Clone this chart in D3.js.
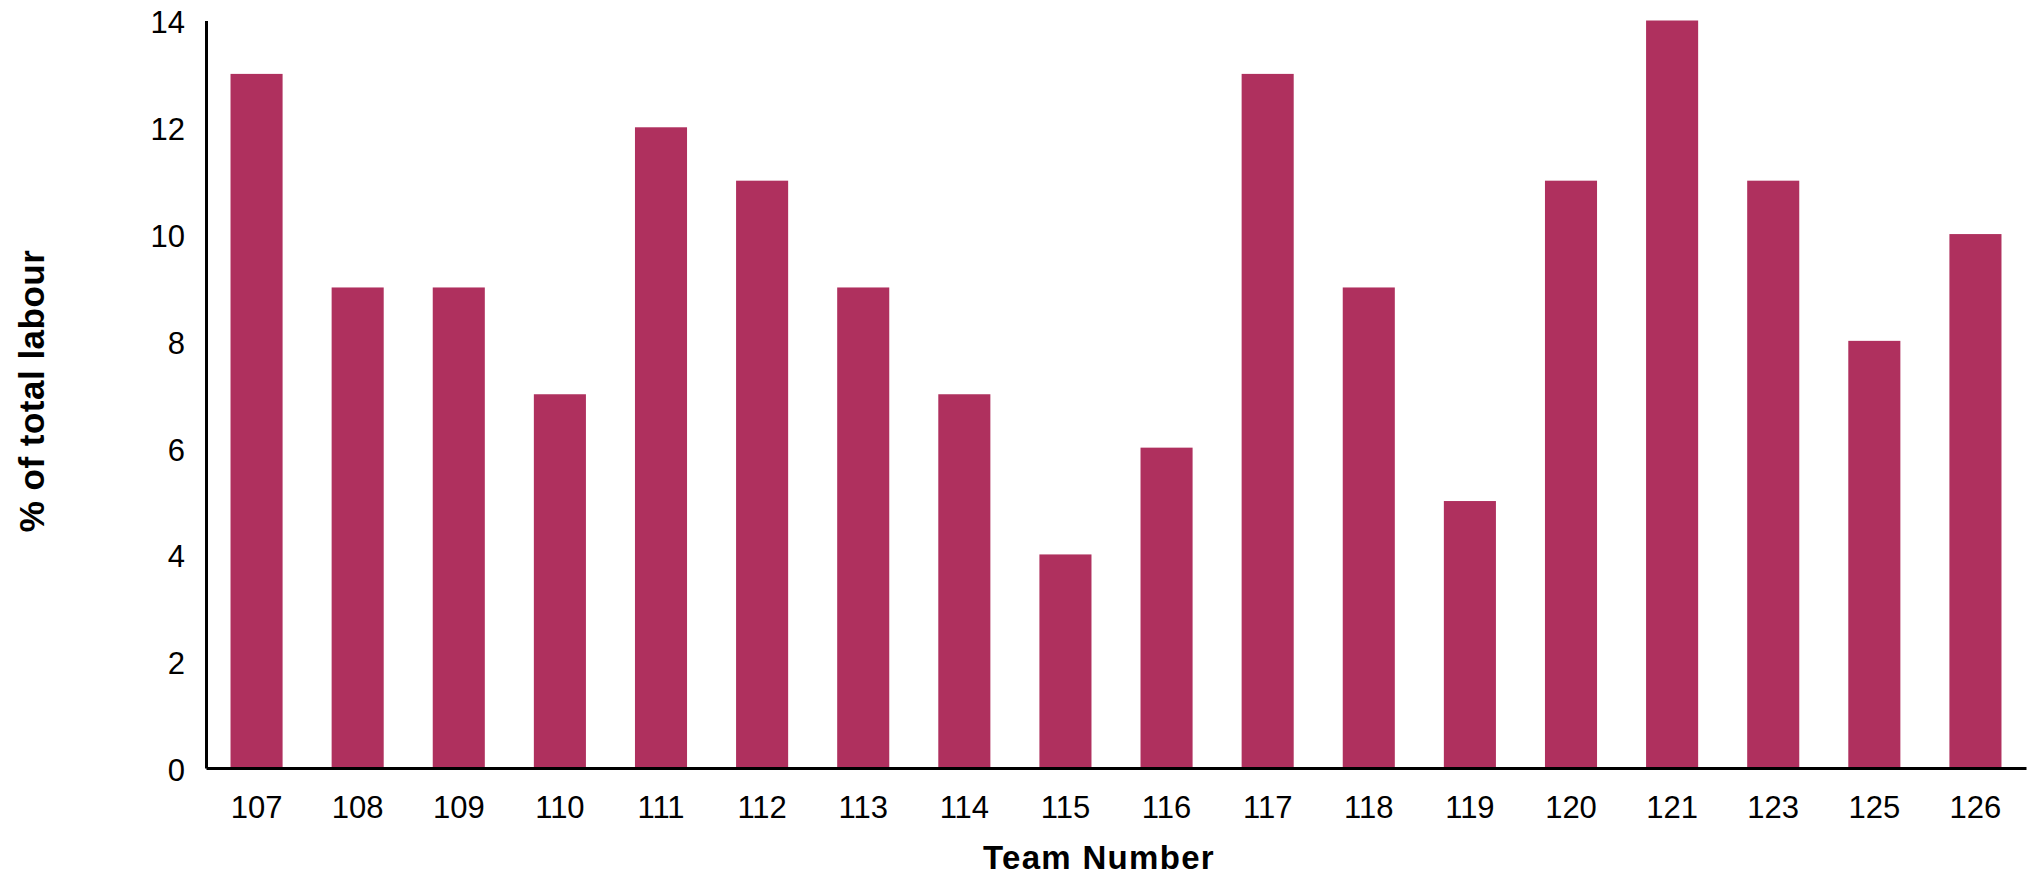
<!DOCTYPE html>
<html><head><meta charset="utf-8">
<script src="https://cdn.jsdelivr.net/npm/d3@7"></script>
<style>html,body{margin:0;padding:0;background:#fff;}svg{display:block;}</style>
</head><body>
<script>
const teams = ["107","108","109","110","111","112","113","114","115","116","117","118","119","120","121","123","125","126"];
const labour = [13, 9, 9, 7, 12, 11, 9, 7, 4, 6, 13, 9, 5, 11, 14, 11, 8, 10];
const yTicks = [0, 2, 4, 6, 8, 10, 12, 14];

(function () {
const W = 2033, H = 877;
const svg = d3.select("body").append("svg").attr("width", W).attr("height", H);
const mLeft = 206, mRight = 2026, mTop = 20.5, mBottom = 768;
const font = "'Liberation Sans', Arial, sans-serif";

const x = d3.scaleBand().domain(teams).range([mLeft, mRight]).paddingInner(0.485).paddingOuter(0.2425);
const y = d3.scaleLinear().domain([0, 14]).range([mBottom, mTop]);

svg.append("g").selectAll("rect").data(labour).join("rect")
  .attr("x", (d, i) => x(teams[i]))
  .attr("y", d => y(d))
  .attr("width", x.bandwidth())
  .attr("height", d => y(0) - y(d))
  .attr("fill", "#AF305E");

const yAxis = svg.append("g").attr("transform", `translate(${mLeft},0)`)
  .call(d3.axisLeft(y).tickValues(yTicks).tickSize(0).tickPadding(21));
yAxis.select(".domain").attr("stroke", "#000").attr("stroke-width", 3);
yAxis.selectAll("text").attr("font-family", font).attr("font-size", 31).attr("fill", "#000").attr("dy", "0.4em");

const xAxis = svg.append("g").attr("transform", `translate(0,${mBottom})`)
  .call(d3.axisBottom(x).tickSize(0).tickPadding(28));
xAxis.select(".domain").attr("stroke", "#000").attr("stroke-width", 3);
xAxis.selectAll("text").attr("font-family", font).attr("font-size", 31).attr("fill", "#000");

svg.append("text").attr("x", 1099).attr("y", 869).attr("text-anchor", "middle")
  .attr("font-family", font).attr("font-size", 33).attr("letter-spacing", 1.3).attr("font-weight", "bold").text("Team Number");

svg.append("text").attr("transform", "translate(44,391) rotate(-90)").attr("text-anchor", "middle")
  .attr("font-family", font).attr("font-size", 35).attr("letter-spacing", 0.5).attr("font-weight", "bold").text("% of total labour");
})();
</script>
</body></html>
